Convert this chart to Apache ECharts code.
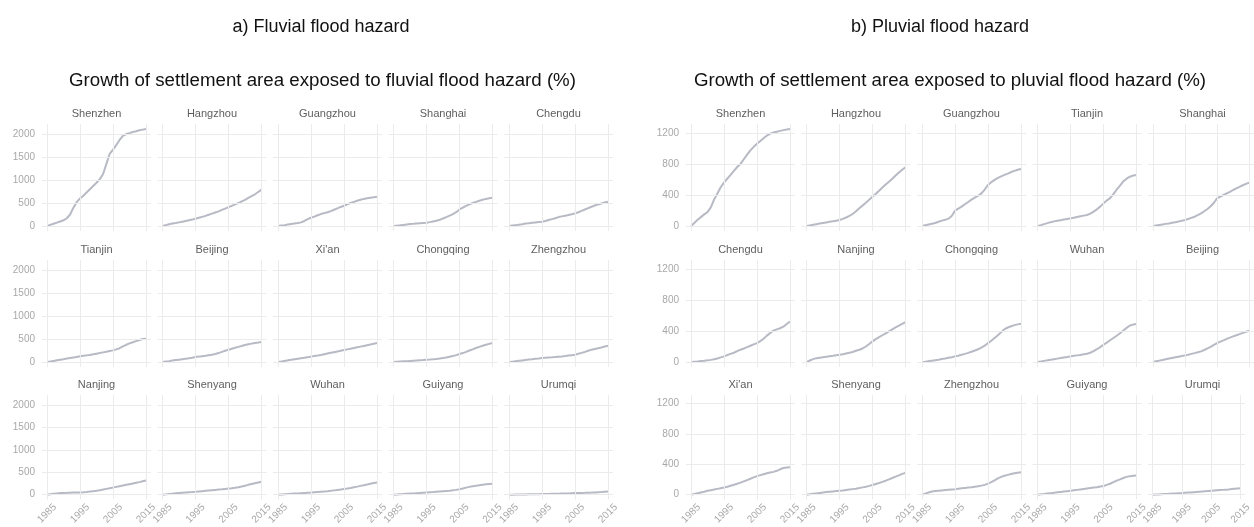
<!DOCTYPE html>
<html><head><meta charset="utf-8">
<script src="https://cdn.jsdelivr.net/npm/echarts@6/dist/echarts.min.js"></script>
<style>html,body{margin:0;padding:0;background:#fff}#c{width:1254px;height:527px}</style>
</head><body><div id="c"></div>
<script>
// ---------- DATA ----------
const years = [1985,1986,1987,1988,1989,1990,1991,1992,1993,1994,1995,1996,1997,1998,1999,2000,2001,2002,2003,2004,2005,2006,2007,2008,2009,2010,2011,2012,2013,2014,2015];
const xTickLabels = [1985,1995,2005,2015];
const fluvialTicks = [0,500,1000,1500,2000];
const pluvialTicks = [0,400,800,1200];

const fluvialCities = ['Shenzhen','Hangzhou','Guangzhou','Shanghai','Chengdu','Tianjin','Beijing','Xi\'an','Chongqing','Zhengzhou','Nanjing','Shenyang','Wuhan','Guiyang','Urumqi'];
const pluvialCities = ['Shenzhen','Hangzhou','Guangzhou','Tianjin','Shanghai','Chengdu','Nanjing','Chongqing','Wuhan','Beijing','Xi\'an','Shenyang','Zhengzhou','Guiyang','Urumqi'];

// Fluvial (%)
const fluvialShenzhen  = [0,25,50,75,100,125,170,250,400,520,600,660,730,800,870,940,1020,1130,1350,1570,1660,1760,1870,1960,2000,2020,2045,2060,2080,2095,2110];
const fluvialHangzhou  = [0,20,40,55,65,80,95,110,125,140,160,180,200,220,245,270,295,320,350,380,410,440,470,500,535,570,610,650,690,740,790];
const fluvialGuangzhou = [0,10,20,35,45,55,65,80,110,150,180,205,235,260,280,300,325,355,385,415,440,470,500,525,550,570,590,605,615,625,638];
const fluvialShanghai  = [0,8,16,25,34,43,48,54,60,66,72,85,100,115,135,165,195,225,260,300,360,400,440,470,500,525,550,570,590,605,616];
const fluvialChengdu   = [0,10,20,30,40,55,62,70,78,86,94,110,130,150,170,195,210,225,240,257,275,300,330,360,390,420,445,470,490,510,529];
const fluvialTianjin   = [0,12,25,38,50,62,75,88,100,112,124,135,145,155,168,182,195,210,225,240,254,275,300,340,375,405,430,455,480,500,509];
const fluvialBeijing   = [0,10,20,32,42,52,62,72,82,95,109,118,128,138,150,160,175,195,220,245,269,290,310,330,350,370,385,400,415,425,436];
const fluvialXian      = [0,12,25,37,50,62,72,82,92,105,118,130,142,155,170,185,200,215,230,245,260,275,290,305,320,335,350,365,380,398,414];
const fluvialChongqing = [0,5,10,15,20,25,30,35,40,45,51,55,60,66,75,87,100,115,130,150,174,195,220,250,275,305,330,355,375,395,414];
const fluvialZhengzhou = [0,9,18,27,36,45,53,61,70,78,87,92,97,102,108,115,122,130,140,150,160,180,200,220,245,269,285,300,318,338,356];
const fluvialNanjing   = [0,12,24,30,36,40,42,45,47,49,50,55,62,70,80,90,101,115,130,145,159,175,190,205,220,235,250,265,280,300,318];
const fluvialShenyang  = [0,8,16,24,32,40,46,52,56,60,65,72,79,86,93,100,107,114,121,129,137,145,155,168,182,200,220,238,255,272,289];
const fluvialWuhan     = [0,5,10,15,20,25,30,35,40,45,50,56,62,68,74,80,88,97,106,115,125,137,150,165,180,197,212,228,245,260,274];
const fluvialGuiyang   = [0,5,10,15,20,25,30,35,40,45,50,55,60,66,72,78,84,90,98,108,123,140,158,175,190,200,212,222,232,240,245];
const fluvialUrumqi    = [0,1,3,4,6,7,8,9,10,12,14,16,18,20,22,24,26,28,30,33,36,38,40,42,45,48,52,56,60,66,72];

// Pluvial (%)
const pluvialShenzhen  = [0,40,80,115,150,180,240,340,420,500,560,610,660,710,760,800,860,920,975,1020,1060,1095,1130,1165,1190,1205,1215,1225,1235,1242,1250];
const pluvialHangzhou  = [0,8,16,24,32,40,47,54,61,69,77,92,110,130,155,190,228,265,300,340,378,415,455,495,535,570,610,650,690,725,757];
const pluvialGuangzhou = [0,10,20,30,40,55,70,80,95,130,198,225,250,280,310,340,365,390,420,470,529,565,595,620,640,658,675,695,710,725,735];
const pluvialTianjin   = [0,12,25,38,50,60,68,76,84,92,99,108,117,126,134,142,160,185,215,250,292,330,360,410,470,520,575,610,635,650,658];
const pluvialShanghai  = [0,7,14,21,28,34,42,50,58,67,77,90,105,120,140,163,190,220,255,300,357,380,400,420,440,464,485,505,525,542,559];
const pluvialChengdu   = [0,4,8,13,17,22,28,35,45,60,73,90,105,120,140,159,175,192,210,228,244,270,300,340,375,405,420,435,455,490,523];
const pluvialNanjing   = [0,20,38,50,56,62,68,75,81,88,94,100,110,120,130,145,159,175,200,232,266,295,320,345,370,395,420,445,468,492,514];
const pluvialChongqing = [0,5,12,18,24,30,38,46,55,63,73,82,93,105,118,132,148,165,185,210,244,275,310,345,385,424,445,460,475,485,493];
const pluvialWuhan     = [0,7,15,22,30,37,44,51,58,65,73,80,86,92,99,107,120,140,165,192,223,250,280,310,339,370,405,440,470,482,489];
const pluvialBeijing   = [0,9,18,27,36,45,53,61,69,77,86,95,105,115,126,137,155,175,195,220,244,262,280,298,315,330,345,360,375,390,403];
const pluvialXian      = [0,10,20,30,40,52,60,68,77,86,95,105,118,131,145,159,176,193,210,228,245,258,270,282,292,301,315,335,352,360,362];
const pluvialShenyang  = [0,6,12,18,24,30,35,40,44,48,52,56,62,68,74,80,88,97,106,117,129,142,155,170,185,202,220,238,255,275,288];
const pluvialZhengzhou = [0,15,30,42,48,53,57,61,65,69,73,79,85,90,95,100,106,112,120,130,146,165,190,215,235,250,262,273,282,290,297];
const pluvialGuiyang   = [0,5,10,16,21,26,32,37,42,47,52,58,64,70,76,82,88,94,100,108,116,130,145,165,185,202,220,235,245,250,254];
const pluvialUrumqi    = [0,2,4,7,9,11,13,15,17,20,22,25,28,31,34,37,40,43,46,49,52,55,58,61,64,67,70,74,78,82,86];

const fluvialValues = [fluvialShenzhen,fluvialHangzhou,fluvialGuangzhou,fluvialShanghai,fluvialChengdu,fluvialTianjin,fluvialBeijing,fluvialXian,fluvialChongqing,fluvialZhengzhou,fluvialNanjing,fluvialShenyang,fluvialWuhan,fluvialGuiyang,fluvialUrumqi];
const pluvialValues = [pluvialShenzhen,pluvialHangzhou,pluvialGuangzhou,pluvialTianjin,pluvialShanghai,pluvialChengdu,pluvialNanjing,pluvialChongqing,pluvialWuhan,pluvialBeijing,pluvialXian,pluvialShenyang,pluvialZhengzhou,pluvialGuiyang,pluvialUrumqi];

// ---------- LAYOUT ----------
const FONT = 'Liberation Sans, Arial, sans-serif';
const LINE_COLOR = '#b7bac4';
const GRID_COLOR = '#ebebeb';
const TICK_COLOR = '#a8a8a8';
const colStep = 115.5, pxPerYear = 3.3;
const rowZero = [226, 362, 497];
const zeroToTop = 101.9, panelH = 106.8;
const plain = v => String(v);

const blocks = [
  {cities: fluvialCities, values: fluvialValues, ticks: fluvialTicks, yMin: -105.5, yMax: 2215.5, x0: 47,
   title: 'a) Fluvial flood hazard', sub: 'Growth of settlement area exposed to fluvial flood hazard (%)', cx: 321, scx: 322.5},
  {cities: pluvialCities, values: pluvialValues, ticks: pluvialTicks, yMin: -62.5, yMax: 1312.5, x0: 691,
   title: 'b) Pluvial flood hazard', sub: 'Growth of settlement area exposed to pluvial flood hazard (%)', cx: 940, scx: 950}
];

const grid = [], xAxis = [], yAxis = [], series = [], graphic = [];
blocks.forEach((b) => {
  graphic.push({type:'text', x: b.cx, y: 27, silent:true,
    style:{text:b.title, fill:'#111', font:'18px ' + FONT, align:'center', verticalAlign:'middle'}});
  graphic.push({type:'text', x: b.scx, y: 81, silent:true,
    style:{text:b.sub, fill:'#111', font:'18.7px ' + FONT, align:'center', verticalAlign:'middle'}});
  b.cities.forEach((city, i) => {
    const row = Math.floor(i / 5), col = i % 5;
    const x1985 = b.x0 + col * colStep;
    const left = x1985 - 1.5 * pxPerYear;
    const top = rowZero[row] - zeroToTop;
    const gi = grid.length;
    grid.push({left: left, top: top, width: 33 * pxPerYear, height: panelH, containLabel:false});
    xAxis.push({gridIndex: gi, type:'value', min: 1983.5, max: 2016.5,
      axisLine:{show:false}, axisTick:{show:false}, splitLine:{show:false},
      axisLabel:{show: row === 2, customValues: xTickLabels, formatter: plain, rotate: 45, align:'center', verticalAlign:'middle',
        margin: 14, color: TICK_COLOR, fontSize: 10, fontFamily: FONT}});
    yAxis.push({gridIndex: gi, type:'value', min: b.yMin, max: b.yMax,
      axisLine:{show:false}, axisTick:{show:false}, splitLine:{show:false},
      axisLabel:{show: col === 0, customValues: b.ticks, formatter: plain, margin: 7, color: TICK_COLOR, fontSize: 10, fontFamily: FONT}});
    series.push({type:'line', xAxisIndex: gi, yAxisIndex: gi, data: [], z: 1, silent:true,
      markLine:{silent:true, symbol:['none','none'], animation:false, label:{show:false},
        lineStyle:{color: GRID_COLOR, width: 1, type:'solid'},
        emphasis:{disabled:true},
        data: xTickLabels.map(v => ({xAxis: v})).concat(b.ticks.map(v => ({yAxis: v})))}});
    series.push({type:'line', xAxisIndex: gi, yAxisIndex: gi, z: 3, silent:true,
      data: years.map((y, j) => [y, b.values[i][j]]),
      showSymbol:false, symbol:'none', lineStyle:{color: LINE_COLOR, width: 2}, animation:false});
    graphic.push({type:'text', x: x1985 + 49.5, y: rowZero[row] - 112, silent:true,
      style:{text: city, fill:'#5e5e5e', font:'11px ' + FONT, align:'center', verticalAlign:'middle'}});
  });
});

const chart = echarts.init(document.getElementById('c'), null, {renderer:'canvas'});
chart.setOption({animation:false, backgroundColor:'#fff', grid, xAxis, yAxis, series, graphic});
</script>
</body></html>
